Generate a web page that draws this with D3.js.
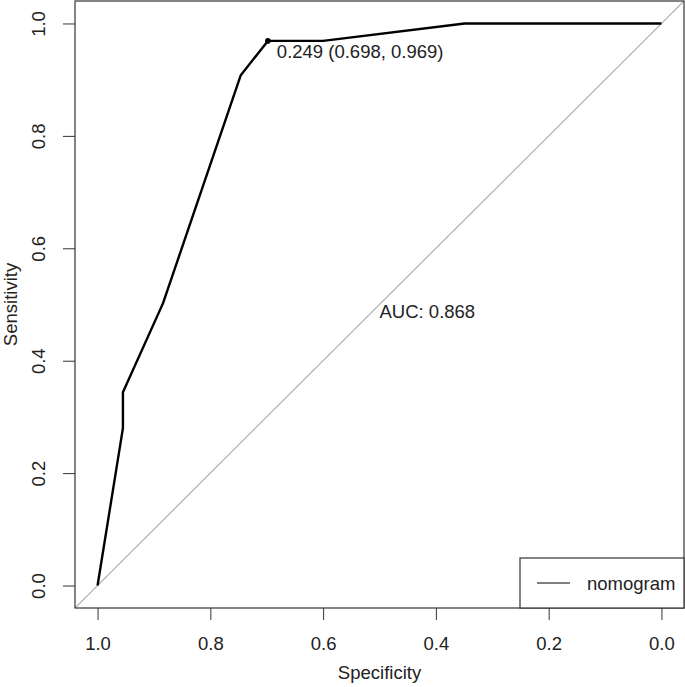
<!DOCTYPE html>
<html>
<head>
<meta charset="utf-8">
<script src="https://cdn.jsdelivr.net/npm/d3@7"></script>
<style>
  body { margin: 0; background: #fff; }
  svg { display: block; font-family: 'Liberation Sans', Arial, sans-serif; }
</style>
</head>
<body>
<div id="chart"></div>
<script>
// ROC curve points (specificity, sensitivity)
const SPECIFICITY = [1.0, 0.955, 0.955, 0.884, 0.746, 0.698, 0.600, 0.349, 0.0]
const SENSITIVITY = [0.0, 0.280, 0.344, 0.502, 0.908, 0.969, 0.969, 1.0, 1.0]
const TICKS = [1.0, 0.8, 0.6, 0.4, 0.2, 0.0]
const BEST = { thres: 0.249, spec: 0.698, sens: 0.969 }
const AUC = 0.868
const SERIES_NAME = 'nomogram'

const W = 685
const H = 687
const box = { left: 75, right: 684, top: 1, bottom: 608 }
const FONT = '18.5px'

const svg = d3.select('#chart').append('svg')
  .attr('width', W)
  .attr('height', H)

const x = d3.scaleLinear().domain([1.04, -0.04]).range([box.left, box.right])
const y = d3.scaleLinear().domain([-0.04, 1.04]).range([box.bottom, box.top])

svg.append('clipPath').attr('id', 'clip')
  .append('rect')
  .attr('x', box.left).attr('y', box.top)
  .attr('width', box.right - box.left).attr('height', box.bottom - box.top)

// diagonal reference line
svg.append('line')
  .attr('clip-path', 'url(#clip)')
  .attr('x1', x(1.04)).attr('y1', y(-0.04))
  .attr('x2', x(-0.04)).attr('y2', y(1.04))
  .attr('stroke', '#a8a8a8')
  .attr('stroke-width', 1.1)

const pts = SPECIFICITY.map((s, i) => [s, SENSITIVITY[i]])

svg.append('path')
  .datum(pts)
  .attr('fill', 'none')
  .attr('stroke', '#000')
  .attr('stroke-width', 2.4)
  .attr('stroke-linejoin', 'round')
  .attr('d', d3.line().x(d => x(d[0])).y(d => y(d[1])))

// best threshold point
svg.append('circle')
  .attr('cx', x(BEST.spec)).attr('cy', y(BEST.sens))
  .attr('r', 2.8)
  .attr('fill', '#000')

svg.append('text')
  .attr('x', x(BEST.spec) + 9)
  .attr('y', y(BEST.sens) + 17.5)
  .attr('font-size', FONT)
  .attr('fill', '#222')
  .text(`${BEST.thres} (${BEST.spec}, ${BEST.sens})`)

svg.append('text')
  .attr('x', x(0.5))
  .attr('y', y(0.5) + 13.5)
  .attr('font-size', FONT)
  .attr('fill', '#222')
  .text(`AUC: ${AUC}`)

// axes
const fmt = d3.format('.1f')

const xAxis = svg.append('g')
  .attr('transform', `translate(0,${box.bottom})`)
  .call(d3.axisBottom(x).tickValues(TICKS).tickFormat(fmt).tickSize(12))
xAxis.select('.domain').remove()
xAxis.selectAll('line').attr('stroke', '#333')
xAxis.selectAll('text')
  .attr('y', 42).attr('dy', 0)
  .attr('font-size', FONT)
  .attr('fill', '#222')
xAxis.attr('font-family', null)

const yAxis = svg.append('g')
  .attr('transform', `translate(${box.left},0)`)
  .call(d3.axisLeft(y).tickValues(TICKS).tickFormat(fmt).tickSize(12))
yAxis.select('.domain').remove()
yAxis.selectAll('line').attr('stroke', '#333')
yAxis.selectAll('text')
  .attr('x', null).attr('dy', 0)
  .attr('text-anchor', 'middle')
  .attr('transform', 'translate(-30,0) rotate(-90)')
  .attr('font-size', FONT)
  .attr('fill', '#222')
yAxis.attr('font-family', null)

// plot box
svg.append('rect')
  .attr('x', box.left).attr('y', box.top)
  .attr('width', box.right - box.left).attr('height', box.bottom - box.top)
  .attr('fill', 'none')
  .attr('stroke', '#333')
  .attr('stroke-width', 1.2)

// axis titles
svg.append('text')
  .attr('x', (box.left + box.right) / 2)
  .attr('y', 679)
  .attr('text-anchor', 'middle')
  .attr('font-size', FONT)
  .attr('fill', '#222')
  .text('Specificity')

svg.append('text')
  .attr('transform', `translate(16.5,${(box.top + box.bottom) / 2}) rotate(-90)`)
  .attr('text-anchor', 'middle')
  .attr('font-size', FONT)
  .attr('fill', '#222')
  .text('Sensitivity')

// legend
const lg = svg.append('g')
lg.append('rect')
  .attr('x', 520).attr('y', 558)
  .attr('width', box.right - 520).attr('height', box.bottom - 558)
  .attr('fill', '#fff')
  .attr('stroke', '#333')
  .attr('stroke-width', 1.2)
lg.append('line')
  .attr('x1', 537).attr('x2', 570)
  .attr('y1', 583).attr('y2', 583)
  .attr('stroke', '#000')
  .attr('stroke-width', 1)
lg.append('text')
  .attr('x', 587).attr('y', 590)
  .attr('font-size', FONT)
  .attr('fill', '#222')
  .text(SERIES_NAME)
</script>
</body>
</html>
